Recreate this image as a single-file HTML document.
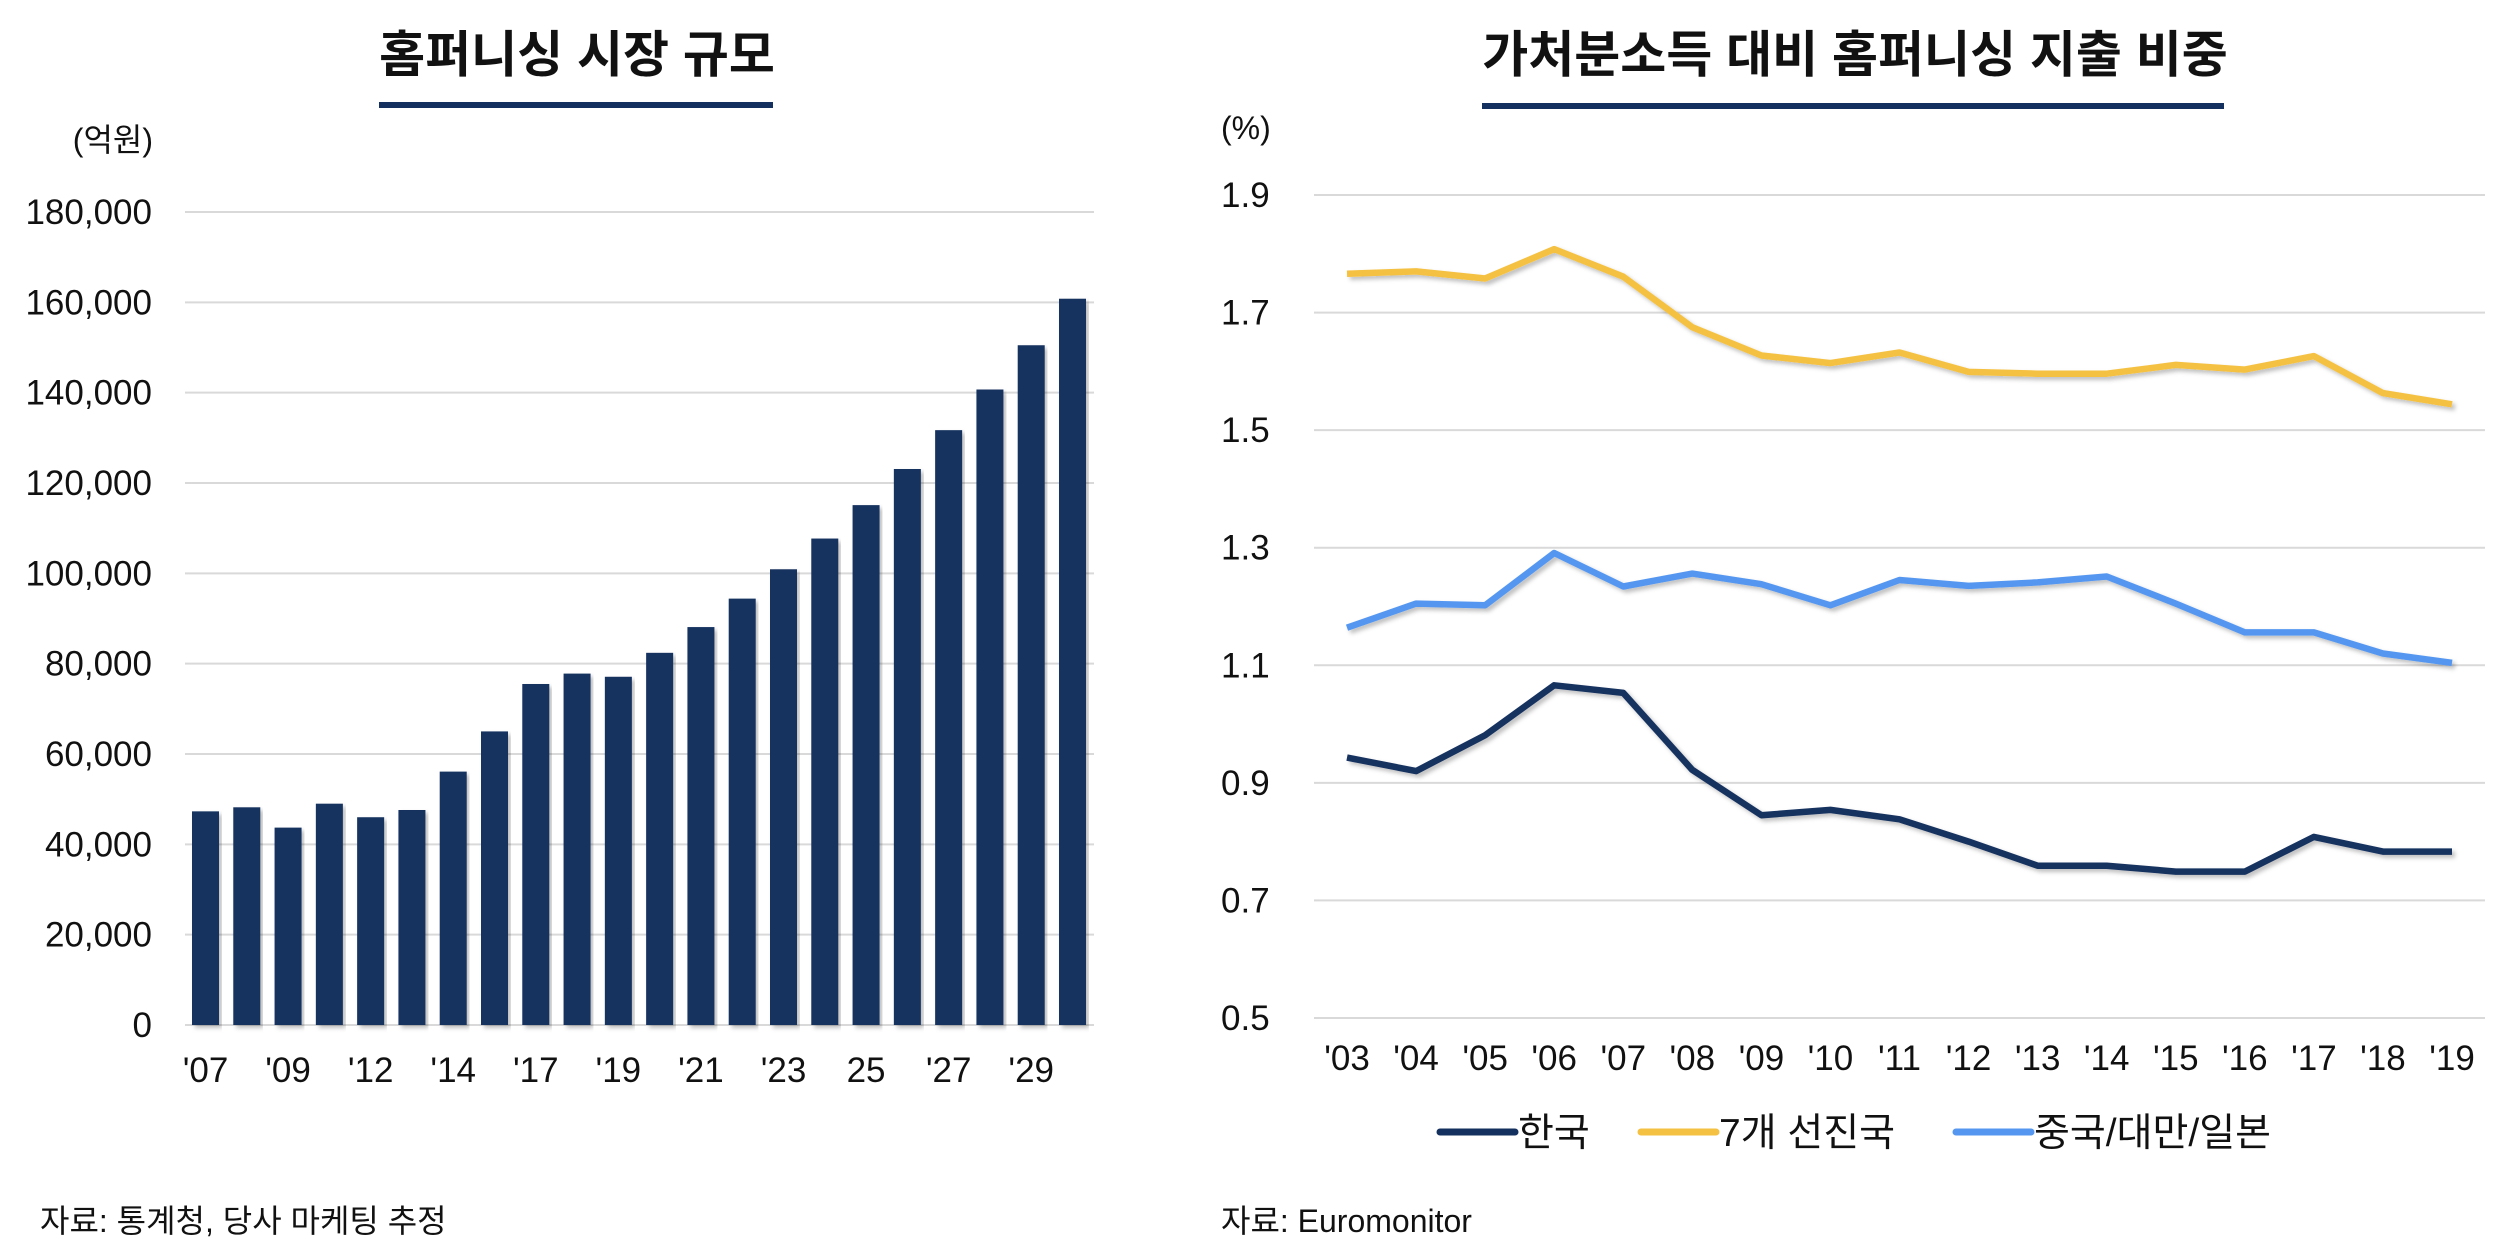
<!DOCTYPE html>
<html><head><meta charset="utf-8"><style>
html,body{margin:0;padding:0;background:#fff;}
svg{display:block;font-family:"Liberation Sans","Noto Sans CJK KR",sans-serif;}
</style></head><body>
<svg id="root" width="2500" height="1258" viewBox="0 0 2500 1258" xmlns="http://www.w3.org/2000/svg">
<defs><filter id="sh" x="-5%" y="-5%" width="115%" height="115%"><feDropShadow dx="3" dy="3" stdDeviation="2" flood-color="#000" flood-opacity="0.25"/></filter></defs>
<text x="577" y="72" text-anchor="middle" font-size="50" font-weight="bold" fill="#111">홈퍼니싱 시장 규모</text>
<rect x="379" y="102" width="394" height="6" fill="#14305e"/>
<text x="153" y="151" text-anchor="end" font-size="32" fill="#111">(억원)</text>
<g id="left"></g>
<text x="40" y="1232" font-size="32" fill="#111">자료: 통계청, 당사 마케팅 추정</text>

<text x="1855" y="72" text-anchor="middle" font-size="50" font-weight="bold" fill="#111">가처분소득 대비 홈퍼니싱 지출 비중</text>
<rect x="1482" y="103" width="742" height="6" fill="#14305e"/>
<text x="1221" y="139" font-size="32" fill="#111">(%)</text>
<g id="right"></g>
<g id="legend"></g>
<text x="1221" y="1232" font-size="32" fill="#111">자료: Euromonitor</text>
</svg>
<script>
const barCategories=["'07","'08","'09","'10","'12","'13","'14","'16","'17","'18","'19","'20","'21","'22","'23","'24","25","'26","'27","'28","'29","'30"];
const barValues=[47300,48200,43700,49000,46000,47600,56100,65000,75500,77800,77100,82400,88100,94400,100900,107700,115100,123100,131700,140700,150500,160800];
const barTickLabels=["'07","'09","'12","'14","'17","'19","'21","'23","25","'27","'29"];
const barYTicks=[0,20000,40000,60000,80000,100000,120000,140000,160000,180000];

const lineYears=["'03","'04","'05","'06","'07","'08","'09","'10","'11","'12","'13","'14","'15","'16","'17","'18","'19"];
const seriesKorea=[0.943,0.920,0.981,1.066,1.053,0.922,0.845,0.854,0.838,0.800,0.759,0.759,0.749,0.749,0.808,0.783,0.783];
const seriesG7=[1.766,1.770,1.758,1.808,1.761,1.675,1.627,1.614,1.632,1.599,1.596,1.596,1.611,1.603,1.626,1.563,1.544];
const seriesAsia=[1.164,1.205,1.202,1.291,1.234,1.256,1.238,1.202,1.245,1.235,1.241,1.251,1.205,1.156,1.156,1.120,1.104];
const lineYTicks=[0.5,0.7,0.9,1.1,1.3,1.5,1.7,1.9];
const seriesNames=["한국","7개 선진국","중국/대만/일본"];

const NS="http://www.w3.org/2000/svg";
function mk(tag,attrs,parent,text){const e=document.createElementNS(NS,tag);for(const k in attrs)e.setAttribute(k,attrs[k]);if(text!==undefined)e.textContent=text;parent.appendChild(e);return e;}

// left bar chart
const L=document.getElementById('left');
const lx0=185,lx1=1094,ly0=1025,ly1=212;
const ly=v=>ly0-(v-0)/(180000)*(ly0-ly1);
const bx=i=>192+i*((1059-192)/(barValues.length-1));
barYTicks.forEach(t=>{
  const g=mk('line',{x1:lx0,x2:lx1,y1:ly(t),y2:ly(t),stroke:'#d9d9d9','stroke-width':2},L);
  
  
  const tx=mk('text',{x:152,y:ly(t)+12,'text-anchor':'end','font-size':35,fill:'#111'},L,t.toLocaleString('en-US'));
  
  
});
barValues.forEach((v,i)=>{
  const r=mk('rect',{x:bx(i),y:ly(v),width:27,height:ly0-ly(v),fill:'#14305e',filter:'url(#sh)'},L);
  
  
});
barTickLabels.forEach((s,j)=>{
  const t=mk('text',{x:bx(j*2)+13.5,y:1082,'text-anchor':'middle','font-size':35,fill:'#111'},L,s);
  
  
});

// right line chart
const R=document.getElementById('right');
const rx0=1314,rx1=2485,ry0=1018,ry1=195;
const ry=v=>ry0-(v-0.5)/1.4*(ry0-ry1);
const px=i=>1347+i*((2452-1347)/(lineYears.length-1));
lineYTicks.forEach(t=>{
  const g=mk('line',{x1:rx0,x2:rx1,y1:ry(t),y2:ry(t),stroke:'#d9d9d9','stroke-width':2},R);
  
  
  const tx=mk('text',{x:1221,y:ry(t)+12,'font-size':35,fill:'#111'},R,t.toFixed(1));
  
  
});
lineYears.forEach((s,i)=>{
  const t=mk('text',{x:px(i),y:1070,'text-anchor':'middle','font-size':35,fill:'#111'},R,s);
  
  
});
const allSeries=[seriesKorea,seriesG7,seriesAsia];
const colors=['#14305e','#f5c142','#5597f0'];
const snames=['line-korea','line-g7','line-asia'];
allSeries.forEach((s,k)=>{
  const d=s.map((v,i)=>(i?'L':'M')+px(i).toFixed(1)+','+ry(v).toFixed(1)).join(' ');
  const p=mk('path',{d:d,fill:'none',stroke:colors[k],'stroke-width':6.5,'stroke-linejoin':'round',filter:'url(#sh)'},R);
  
  
});
// legend
const G=document.getElementById('legend');
const lgX=[1440,1641,1956];
seriesNames.forEach((n,k)=>{
  const l=mk('line',{x1:lgX[k],x2:lgX[k]+75,y1:1132,y2:1132,stroke:colors[k],'stroke-width':7,'stroke-linecap':'round'},G);
  
  
  const t=mk('text',{x:lgX[k]+78,y:1146,'font-size':39,fill:'#111'},G,n);
  
  
});
</script>
</body></html>
